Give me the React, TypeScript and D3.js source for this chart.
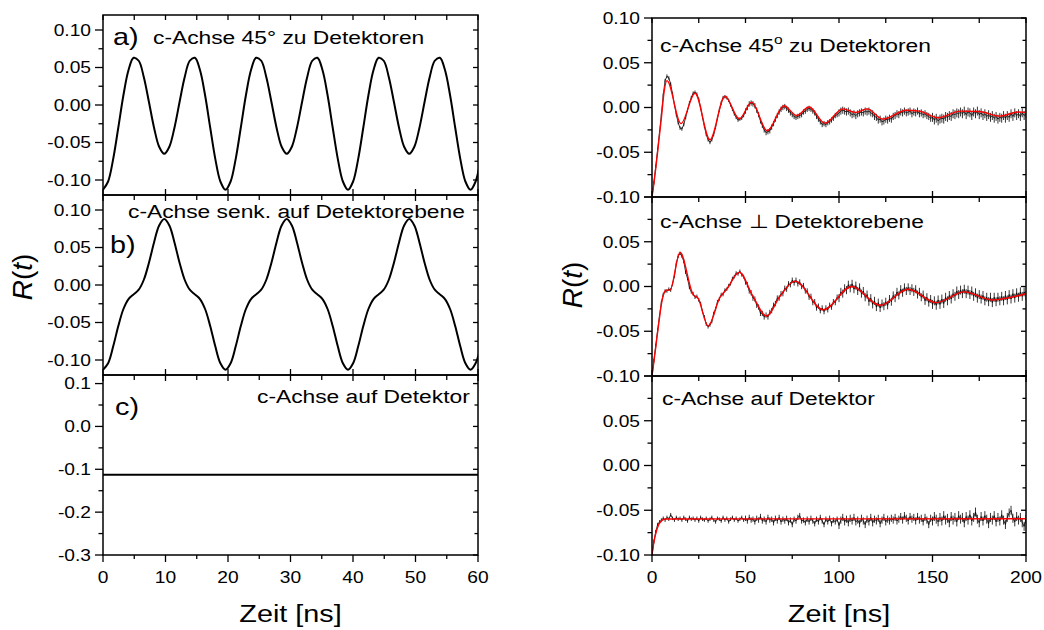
import React from "react";
import * as d3 from "d3";

const FONT = "'Liberation Sans', Arial, Helvetica, sans-serif";
const SX = 1.2; // glyphs in the reference are horizontally stretched

// ---------------- Left column: model curves ----------------
// sampling grid: 15 degree steps of a 19.6 ns period
const stepL = 19.6 / 24;
const tGridL = d3.range(75).map((k) => k * stepL);

const curveA = [
  -0.113, -0.102, -0.0718, -0.03, 0.013, 0.0466, 0.063, 0.059, 0.037, 0.004, -0.0302, -0.0556,
  -0.065, -0.0556, -0.0302, 0.004, 0.037, 0.059, 0.063, 0.0466, 0.013, -0.03, -0.0718, -0.102,
  -0.113, -0.102, -0.0718, -0.03, 0.013, 0.0466, 0.063, 0.059, 0.037, 0.004, -0.0302, -0.0556,
  -0.065, -0.0556, -0.0302, 0.004, 0.037, 0.059, 0.063, 0.0466, 0.013, -0.03, -0.0718, -0.102,
  -0.113, -0.102, -0.0718, -0.03, 0.013, 0.0466, 0.063, 0.059, 0.037, 0.004, -0.0302, -0.0556,
  -0.065, -0.0556, -0.0302, 0.004, 0.037, 0.059, 0.063, 0.0466, 0.013, -0.03, -0.0718, -0.102,
  -0.113, -0.102, -0.0718,
];

const curveB = [
  -0.113, -0.1043, -0.0818, -0.0546, -0.032, -0.0187, -0.0125, -0.0063, 0.007, 0.0296, 0.0568, 0.0793,
  0.088, 0.0793, 0.0568, 0.0296, 0.007, -0.0063, -0.0125, -0.0187, -0.032, -0.0546, -0.0818, -0.1043,
  -0.113, -0.1043, -0.0818, -0.0546, -0.032, -0.0187, -0.0125, -0.0063, 0.007, 0.0296, 0.0568, 0.0793,
  0.088, 0.0793, 0.0568, 0.0296, 0.007, -0.0063, -0.0125, -0.0187, -0.032, -0.0546, -0.0818, -0.1043,
  -0.113, -0.1043, -0.0818, -0.0546, -0.032, -0.0187, -0.0125, -0.0063, 0.007, 0.0296, 0.0568, 0.0793,
  0.088, 0.0793, 0.0568, 0.0296, 0.007, -0.0063, -0.0125, -0.0187, -0.032, -0.0546, -0.0818, -0.1043,
  -0.113, -0.1043, -0.0818,
];

const curveCT = [0, 60];
const curveCV = [-0.113, -0.113];

const xMajorL = [0, 10, 20, 30, 40, 50, 60];
const xMinorL = [5, 15, 25, 35, 45, 55];
const yMajorAB = [0.1, 0.05, 0, -0.05, -0.1];
const yMinorAB = [0.075, 0.025, -0.025, -0.075];
const yMajorC = [0.1, 0, -0.1, -0.2, -0.3];
const yMinorC = [0.05, -0.05, -0.15, -0.25];

// ---------------- Right column: measured data + fits ----------------
const tR = d3.range(201);

const dataTop = [
  -0.1, -0.084, -0.066, -0.047, -0.028, -0.008, 0.014, 0.03, 0.035, 0.033,
  0.026, 0.015, 0.003, -0.008, -0.017, -0.023, -0.024, -0.019, -0.011, -0.003,
  0.005, 0.011, 0.016, 0.017, 0.015, 0.009, 0.0, -0.011, -0.021, -0.03,
  -0.036, -0.039, -0.036, -0.03, -0.022, -0.012, -0.003, 0.005, 0.011, 0.012,
  0.011, 0.008, 0.003, -0.002, -0.007, -0.011, -0.014, -0.013, -0.012, -0.009,
  -0.004, 0.0, 0.004, 0.005, 0.004, 0.002, -0.003, -0.008, -0.015, -0.02,
  -0.025, -0.028, -0.027, -0.026, -0.022, -0.018, -0.013, -0.009, -0.005, -0.002,
  0.0, 0.001, -0.001, -0.003, -0.006, -0.008, -0.01, -0.011, -0.01, -0.009,
  -0.008, -0.005, -0.004, -0.002, -0.001, -0.002, -0.004, -0.006, -0.01, -0.013,
  -0.016, -0.019, -0.018, -0.019, -0.017, -0.016, -0.014, -0.012, -0.009, -0.008,
  -0.006, -0.004, -0.003, -0.004, -0.005, -0.004, -0.006, -0.008, -0.007, -0.009,
  -0.007, -0.006, -0.005, -0.006, -0.004, -0.005, -0.004, -0.006, -0.007, -0.01,
  -0.011, -0.014, -0.013, -0.016, -0.015, -0.013, -0.014, -0.012, -0.013, -0.01,
  -0.009, -0.007, -0.008, -0.005, -0.006, -0.004, -0.006, -0.005, -0.004, -0.007,
  -0.005, -0.006, -0.004, -0.007, -0.006, -0.008, -0.007, -0.009, -0.01, -0.012,
  -0.011, -0.014, -0.012, -0.015, -0.013, -0.012, -0.013, -0.01, -0.011, -0.009,
  -0.01, -0.007, -0.008, -0.006, -0.007, -0.005, -0.007, -0.004, -0.008, -0.005,
  -0.006, -0.009, -0.005, -0.007, -0.004, -0.008, -0.006, -0.009, -0.007, -0.01,
  -0.008, -0.011, -0.009, -0.012, -0.01, -0.013, -0.011, -0.012, -0.009, -0.012,
  -0.009, -0.011, -0.007, -0.01, -0.006, -0.009, -0.007, -0.01, -0.006, -0.009,
  -0.007,
];

const dataMid = [
  -0.1, -0.083, -0.066, -0.049, -0.033, -0.018, -0.009, -0.005, -0.005, -0.003,
  -0.004, 0.003, 0.012, 0.026, 0.034, 0.037, 0.034, 0.028, 0.016, 0.009,
  -0.001, -0.006, -0.008, -0.012, -0.011, -0.015, -0.019, -0.028, -0.034, -0.042,
  -0.045, -0.043, -0.039, -0.03, -0.025, -0.017, -0.014, -0.009, -0.009, -0.004,
  -0.003, 0.001, 0.003, 0.009, 0.011, 0.015, 0.014, 0.017, 0.013, 0.011,
  0.005, 0.002, -0.005, -0.007, -0.013, -0.014, -0.021, -0.023, -0.03, -0.03,
  -0.034, -0.032, -0.034, -0.029, -0.027, -0.021, -0.019, -0.013, -0.013, -0.008,
  -0.008, -0.002, -0.003, 0.003, 0.002, 0.007, 0.004, 0.007, 0.003, 0.005,
  0.0, 0.001, -0.005, -0.005, -0.012, -0.011, -0.018, -0.017, -0.024, -0.022,
  -0.027, -0.024, -0.028, -0.024, -0.026, -0.021, -0.023, -0.017, -0.018, -0.012,
  -0.013, -0.006, -0.008, -0.002, -0.004, 0.002, -0.002, 0.003, -0.003, 0.001,
  -0.005, -0.001, -0.008, -0.005, -0.012, -0.009, -0.017, -0.013, -0.02, -0.016,
  -0.023, -0.018, -0.024, -0.019, -0.022, -0.017, -0.021, -0.014, -0.017, -0.01,
  -0.013, -0.006, -0.01, -0.003, -0.007, -0.001, -0.005, -0.001, -0.005, -0.002,
  -0.006, -0.003, -0.009, -0.006, -0.012, -0.009, -0.016, -0.012, -0.018, -0.014,
  -0.02, -0.016, -0.021, -0.015, -0.02, -0.014, -0.019, -0.012, -0.016, -0.01,
  -0.014, -0.008, -0.011, -0.005, -0.009, -0.004, -0.008, -0.003, -0.008, -0.004,
  -0.009, -0.005, -0.011, -0.007, -0.013, -0.009, -0.014, -0.01, -0.016, -0.012,
  -0.017, -0.012, -0.018, -0.012, -0.017, -0.012, -0.016, -0.011, -0.016, -0.01,
  -0.015, -0.009, -0.014, -0.008, -0.013, -0.007, -0.012, -0.006, -0.011, -0.006,
  -0.01,
];

const dataBot = [
  -0.1, -0.085, -0.074, -0.066, -0.063, -0.061, -0.059, -0.061, -0.058, -0.06,
  -0.055, -0.059, -0.061, -0.058, -0.06, -0.059, -0.061, -0.058, -0.06, -0.062,
  -0.058, -0.06, -0.059, -0.061, -0.059, -0.062, -0.058, -0.06, -0.061, -0.059,
  -0.062, -0.06, -0.058, -0.061, -0.063, -0.059, -0.06, -0.062, -0.058, -0.061,
  -0.059, -0.063, -0.06, -0.058, -0.061, -0.059, -0.062, -0.06, -0.058, -0.061,
  -0.059, -0.062, -0.058, -0.061, -0.06, -0.063, -0.059, -0.061, -0.057, -0.062,
  -0.06, -0.063, -0.058, -0.061, -0.06, -0.064, -0.059, -0.062, -0.058, -0.063,
  -0.06, -0.062, -0.059, -0.064, -0.061, -0.066, -0.06, -0.062, -0.058, -0.056,
  -0.062, -0.061, -0.064, -0.06, -0.063, -0.059, -0.062, -0.065, -0.06, -0.063,
  -0.058, -0.062, -0.066, -0.06, -0.063, -0.059, -0.065, -0.061, -0.063, -0.06,
  -0.067, -0.061, -0.058, -0.063, -0.06, -0.064, -0.059, -0.062, -0.058, -0.063,
  -0.061, -0.065, -0.059, -0.062, -0.066, -0.06, -0.063, -0.058, -0.064, -0.06,
  -0.062, -0.059, -0.065, -0.061, -0.058, -0.063, -0.06, -0.062, -0.059, -0.061,
  -0.058, -0.062, -0.06, -0.057, -0.061, -0.056, -0.059, -0.062, -0.057, -0.06,
  -0.058, -0.062, -0.057, -0.061, -0.059, -0.063, -0.058, -0.061, -0.066, -0.059,
  -0.062, -0.057, -0.06, -0.063, -0.058, -0.062, -0.056, -0.061, -0.059, -0.064,
  -0.057, -0.061, -0.058, -0.063, -0.056, -0.06, -0.058, -0.064, -0.057, -0.061,
  -0.055, -0.062, -0.058, -0.052, -0.06, -0.064, -0.057, -0.062, -0.056, -0.06,
  -0.065, -0.058, -0.061, -0.056, -0.063, -0.058, -0.062, -0.055, -0.061, -0.066,
  -0.058, -0.053, -0.05, -0.059, -0.063, -0.057, -0.061, -0.058, -0.064, -0.068,
  -0.06,
];

// error-bar half lengths per 50 ns block
const errTop = [0.002, 0.003, 0.004, 0.005];
const errMid = [0.002, 0.003, 0.0045, 0.005];
const errBot = [0.002, 0.003, 0.004, 0.005];

// fit curves (knots at extrema / shoulders)
const fitTopT = [0, 1, 3, 5, 6.5, 8, 15.5, 23, 31, 39, 46.7, 53.3, 61.6, 70.6, 77.4, 84, 92.5, 102, 109, 115, 123.5, 136, 143, 153, 165, 175, 186, 196, 200];
const fitTopV = [-0.1, -0.085, -0.05, -0.012, 0.018, 0.03, -0.018, 0.016, -0.036, 0.0126, -0.0126, 0.006, -0.026, 0.002, -0.009, 0.0005, -0.0175, -0.0015, -0.0055, -0.0015, -0.013, -0.003, -0.004, -0.0115, -0.004, -0.0045, -0.0096, -0.005, -0.0055];

const fitMidT = [0, 1, 2, 3, 4, 5, 6, 7, 8, 9.6, 15, 22, 24.6, 30, 36.4, 40, 46.7, 54, 61.3, 68.4, 76.5, 91.6, 106.8, 122, 137, 152, 167, 182, 200];
const fitMidV = [-0.1, -0.084, -0.068, -0.051, -0.035, -0.02, -0.01, -0.005, -0.004, -0.004, 0.038, -0.009, -0.013, -0.044, -0.012, -0.003, 0.016, -0.011, -0.033, -0.011, 0.006, -0.026, 0.0, -0.021, -0.003, -0.018, -0.006, -0.015, -0.008];

const fitBotT = [0, 1, 2, 3.4, 5, 7, 200];
const fitBotV = [-0.1, -0.086, -0.076, -0.067, -0.062, -0.0598, -0.0595];

const xMajorR = [0, 50, 100, 150, 200];
const xMinorR = [25, 75, 125, 175];
const yMajorR = [0.1, 0.05, 0, -0.05, -0.1];
const yMinorR = [0.075, 0.025, -0.025, -0.075];
const yLabelsRTop = [0.1, 0.05, 0, -0.05, -0.1];
const yLabelsRRest = [0.05, 0, -0.05, -0.1];

type Scale = d3.ScaleLinear<number, number>;

function Txt(props: {
  x: number; y: number; size: number; anchor?: string; dy?: string; children: React.ReactNode;
}) {
  const { x, y, size, anchor = "start", dy, children } = props;
  return (
    <text
      transform={`translate(${x},${y}) scale(${SX},1)`}
      fontSize={size}
      fontFamily={FONT}
      textAnchor={anchor as any}
      dy={dy}
      fill="#000"
    >
      {children}
    </text>
  );
}

function Frame(props: {
  x: Scale; y: Scale; xMajor: number[]; xMinor: number[]; yMajor: number[]; yMinor: number[];
  yLabels: number[]; decimals: number; position: "top" | "mid" | "bottom"; labelRight: number;
}) {
  const { x, y, xMajor, xMinor, yMajor, yMinor, yLabels, decimals, position, labelRight } = props;
  const [x0, x1] = x.range();
  const [yb, yt] = y.range();
  const segs: number[][] = [];
  yMajor.forEach((v) => segs.push([x0 - 8, y(v), x0, y(v)]));
  yMinor.forEach((v) => segs.push([x0 - 4.5, y(v), x0, y(v)]));
  yMajor.forEach((v) => segs.push([x1 - 5, y(v), x1, y(v)]));
  yMinor.forEach((v) => segs.push([x1 - 3.5, y(v), x1, y(v)]));
  if (position === "top") {
    [...xMajor, ...xMinor].forEach((t) => segs.push([x(t), yt, x(t), yt + 5]));
  }
  if (position === "bottom") {
    xMajor.forEach((t) => segs.push([x(t), yb, x(t), yb + 7]));
    xMinor.forEach((t) => segs.push([x(t), yb, x(t), yb + 4]));
  } else {
    xMajor.forEach((t) => segs.push([x(t), yb - 6, x(t), yb + 6]));
    xMinor.forEach((t) => segs.push([x(t), yb, x(t), yb + 5]));
  }
  return (
    <g>
      <rect x={x0} y={yt} width={x1 - x0} height={yb - yt} fill="none" stroke="#000" strokeWidth={1.5} />
      {segs.map((s, i) => (
        <line key={i} x1={s[0]} y1={s[1]} x2={s[2]} y2={s[3]} stroke="#000" strokeWidth={1.3} />
      ))}
      {yLabels.map((v) => (
        <Txt key={v} x={labelRight} y={y(v)} size={16} anchor="end" dy="0.36em">
          {v.toFixed(decimals)}
        </Txt>
      ))}
      {position === "bottom" &&
        xMajor.map((t) => (
          <Txt key={"x" + t} x={x(t)} y={583} size={16} anchor="middle">
            {String(t)}
          </Txt>
        ))}
    </g>
  );
}

function linePath(ts: number[], vs: number[], x: Scale, y: Scale, curve: d3.CurveFactory) {
  return (
    d3
      .line<number>()
      .x((_, i) => x(ts[i]))
      .y((d) => y(d))
      .curve(curve)(vs) || ""
  );
}

function errPath(ts: number[], vs: number[], errs: number[], x: Scale, y: Scale) {
  let p = "";
  vs.forEach((v, i) => {
    const e = errs[Math.min(errs.length - 1, Math.floor(ts[i] / 50))];
    p += `M${x(ts[i]).toFixed(2)},${y(v - e).toFixed(2)}V${y(v + e).toFixed(2)}`;
  });
  return p;
}

export default function App() {
  const xL = d3.scaleLinear().domain([0, 60]).range([103, 478]);
  const yA = d3.scaleLinear().domain([-0.12, 0.12]).range([195, 15]);
  const yB = d3.scaleLinear().domain([-0.12, 0.12]).range([375, 195]);
  const yC = d3.scaleLinear().domain([-0.3, 0.12]).range([555, 375]);

  const xR = d3.scaleLinear().domain([0, 200]).range([652, 1026]);
  const yR1 = d3.scaleLinear().domain([-0.1, 0.1]).range([197, 18]);
  const yR2 = d3.scaleLinear().domain([-0.1, 0.1]).range([376, 197]);
  const yR3 = d3.scaleLinear().domain([-0.1, 0.1]).range([555, 376]);

  const rightPanels = [
    { y: yR1, data: dataTop, err: errTop, ft: fitTopT, fv: fitTopV, id: "r1" },
    { y: yR2, data: dataMid, err: errMid, ft: fitMidT, fv: fitMidV, id: "r2" },
    { y: yR3, data: dataBot, err: errBot, ft: fitBotT, fv: fitBotV, id: "r3" },
  ];

  return (
    <svg
      width={1044}
      height={630}
      viewBox="0 0 1044 630"
      style={{ position: "absolute", left: 0, top: 0, background: "#fff" }}
    >
      <defs>
        <clipPath id="clipL">
          <rect x={103} y={15} width={375} height={540} />
        </clipPath>
        <clipPath id="clipR">
          <rect x={652} y={18} width={374} height={537} />
        </clipPath>
      </defs>
      <rect x={0} y={0} width={1044} height={630} fill="#fff" />

      {/* ---------- Left column ---------- */}
      <g clipPath="url(#clipL)">
        <path d={linePath(tGridL, curveA, xL, yA, d3.curveCatmullRom)} fill="none" stroke="#000" strokeWidth={2} />
        <path d={linePath(tGridL, curveB, xL, yB, d3.curveCatmullRom)} fill="none" stroke="#000" strokeWidth={2} />
        <path d={linePath(curveCT, curveCV, xL, yC, d3.curveLinear)} fill="none" stroke="#000" strokeWidth={2} />
      </g>
      <Frame x={xL} y={yA} xMajor={xMajorL} xMinor={xMinorL} yMajor={yMajorAB} yMinor={yMinorAB}
        yLabels={yMajorAB} decimals={2} position="top" labelRight={91} />
      <Frame x={xL} y={yB} xMajor={xMajorL} xMinor={xMinorL} yMajor={yMajorAB} yMinor={yMinorAB}
        yLabels={yMajorAB} decimals={2} position="mid" labelRight={91} />
      <Frame x={xL} y={yC} xMajor={xMajorL} xMinor={xMinorL} yMajor={yMajorC} yMinor={yMinorC}
        yLabels={yMajorC} decimals={1} position="bottom" labelRight={91} />

      <Txt x={113} y={45} size={24}>a)</Txt>
      <Txt x={153} y={44} size={19}>c-Achse 45° zu Detektoren</Txt>
      <Txt x={110} y={253} size={24}>b)</Txt>
      <Txt x={128} y={218} size={19}>c-Achse senk. auf Detektorebene</Txt>
      <Txt x={115} y={415} size={24}>c)</Txt>
      <Txt x={257} y={403} size={19}>c-Achse auf Detektor</Txt>

      <text transform="translate(32,277) rotate(-90)" fontSize={28} fontFamily={FONT} textAnchor="middle">
        <tspan fontStyle="italic">R</tspan>(<tspan fontStyle="italic">t</tspan>)
      </text>
      <Txt x={290.5} y={622} size={24} anchor="middle">Zeit [ns]</Txt>

      {/* ---------- Right column ---------- */}
      <g clipPath="url(#clipR)">
        {rightPanels.map((p) => (
          <g key={p.id}>
            <path d={linePath(tR, p.data, xR, p.y, d3.curveLinear)} fill="none" stroke="#000" strokeWidth={0.8} />
            <path d={errPath(tR, p.data, p.err, xR, p.y)} fill="none" stroke="#000" strokeWidth={0.8} />
            <path d={linePath(p.ft, p.fv, xR, p.y, d3.curveMonotoneX)} fill="none" stroke="#ff0000" strokeWidth={1.4} />
          </g>
        ))}
      </g>
      <Frame x={xR} y={yR1} xMajor={xMajorR} xMinor={xMinorR} yMajor={yMajorR} yMinor={yMinorR}
        yLabels={yLabelsRTop} decimals={2} position="top" labelRight={640} />
      <Frame x={xR} y={yR2} xMajor={xMajorR} xMinor={xMinorR} yMajor={yMajorR} yMinor={yMinorR}
        yLabels={yLabelsRRest} decimals={2} position="mid" labelRight={640} />
      <Frame x={xR} y={yR3} xMajor={xMajorR} xMinor={xMinorR} yMajor={yMajorR} yMinor={yMinorR}
        yLabels={yLabelsRRest} decimals={2} position="bottom" labelRight={640} />

      <Txt x={660} y={52} size={19}>
        c-Achse 45<tspan fontSize={13} dy={-8}>o</tspan>
        <tspan dy={8}> zu Detektoren</tspan>
      </Txt>
      <Txt x={660} y={228} size={19}>c-Achse ⊥ Detektorebene</Txt>
      <Txt x={662} y={405} size={19}>c-Achse auf Detektor</Txt>

      <text transform="translate(582,285) rotate(-90)" fontSize={28} fontFamily={FONT} textAnchor="middle">
        <tspan fontStyle="italic">R</tspan>(<tspan fontStyle="italic">t</tspan>)
      </text>
      <Txt x={839} y={622} size={24} anchor="middle">Zeit [ns]</Txt>
    </svg>
  );
}
